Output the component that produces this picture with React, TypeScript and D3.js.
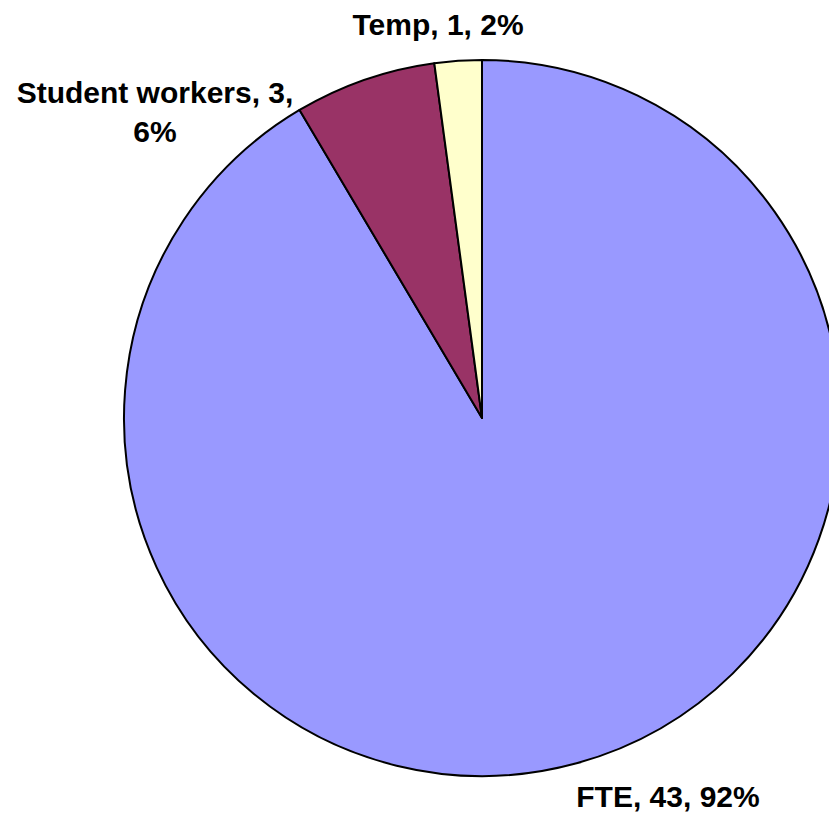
import { useMemo } from "react";
import * as d3 from "d3";

const WIDTH = 829;
const HEIGHT = 817;
const CX = 482;
const CY = 418;
const RADIUS = 358;

// slice data, clockwise from 12 o'clock
const categories = ["FTE", "Student workers", "Temp"];
const values = [43, 3, 1];
const percentLabels = ["92%", "6%", "2%"]; // as printed on the chart
const colors = ["#9999FF", "#993366", "#FFFFCC"];

// label anchors (centre x, first baseline y) relative to pie centre
const LABEL_POS: Record<string, [number, number]> = {
  FTE: [186, 389],
  "Student workers": [-327, -315],
  Temp: [-44, -383],
};

const FONT = "Arial, 'Liberation Sans', sans-serif";
const FONT_SIZE = 30;
const LINE_H = 39;

type Slice = { name: string; value: number; pct: string; color: string };

export default function App() {
  const slices = useMemo(() => {
    const data: Slice[] = categories.map((c, i) => ({
      name: c,
      value: values[i],
      pct: percentLabels[i],
      color: colors[i],
    }));
    return d3
      .pie<Slice>()
      .sort(null)
      .value((d) => d.value)
      .startAngle(0)
      .endAngle(2 * Math.PI)(data);
  }, []);

  const arc = d3.arc<d3.PieArcDatum<Slice>>().innerRadius(0).outerRadius(RADIUS);

  return (
    <svg
      width={WIDTH}
      height={HEIGHT}
      style={{ position: "absolute", left: 0, top: 0, background: "#fff" }}
    >
      <g transform={`translate(${CX},${CY})`}>
        {slices.map((s) => (
          <path
            key={s.data.name}
            d={arc(s) || ""}
            fill={s.data.color}
            stroke="#000"
            strokeWidth={2}
            strokeLinejoin="round"
          />
        ))}
        {slices.map((s) => {
          const [lx, ly] = LABEL_POS[s.data.name];
          // student workers label wraps onto two lines
          const lines =
            s.data.name === "Student workers"
              ? [`${s.data.name}, ${s.data.value},`, s.data.pct]
              : [`${s.data.name}, ${s.data.value}, ${s.data.pct}`];
          return (
            <text
              key={"l" + s.data.name}
              textAnchor="middle"
              fontFamily={FONT}
              fontWeight="bold"
              fontSize={FONT_SIZE}
              fill="#000"
            >
              {lines.map((t, i) => (
                <tspan key={i} x={lx} y={ly + i * LINE_H}>
                  {t}
                </tspan>
              ))}
            </text>
          );
        })}
      </g>
    </svg>
  );
}
